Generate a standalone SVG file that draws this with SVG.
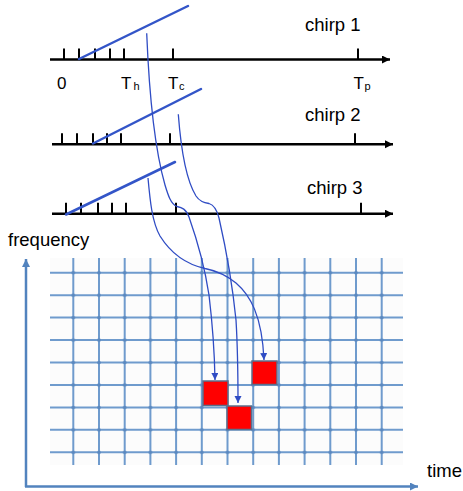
<svg xmlns="http://www.w3.org/2000/svg" width="463" height="491" viewBox="0 0 463 491">
<defs>
<style>
text{font-family:"Liberation Sans",Arial,sans-serif;fill:#000}
.lbl{font-size:18.5px}
.tk{font-size:17px}
.sub{font-size:11px}
.tl{stroke:#000;stroke-width:2.5;fill:none}
.tick{stroke:#000;stroke-width:2;fill:none}
.ramp{stroke:#3355c8;stroke-width:2.5;fill:none;stroke-linecap:round}
.gl{stroke:#6f9bcd;stroke-width:2;fill:none}
.ax{stroke:#5283be;stroke-width:2.5;fill:none}
.cv{stroke:#2f4cc4;stroke-width:1.3;fill:none}
.cell{fill:#ff0000;stroke:#5a6f8c;stroke-width:1.5}
</style>
<pattern id="dots" patternUnits="userSpaceOnUse" x="60.45" y="261.475" width="25.7" height="22.45">
<circle cx="12.85" cy="11.225" r="1.8" fill="#5a88bf"/>
</pattern>
<marker id="ab" markerUnits="userSpaceOnUse" markerWidth="9" markerHeight="9" refX="8" refY="4" orient="auto">
<path d="M0,0 L8,4 L0,8 z" fill="#000"/>
</marker>
<marker id="aa" markerUnits="userSpaceOnUse" markerWidth="9" markerHeight="9" refX="8" refY="4" orient="auto">
<path d="M0,0 L8,4 L0,8 z" fill="#5283be"/>
</marker>
<marker id="ac" markerUnits="userSpaceOnUse" markerWidth="8" markerHeight="8" refX="7" refY="3.5" orient="auto">
<path d="M0,0 L7,3.5 L0,7 z" fill="#2f4cc4"/>
</marker>
</defs>
<rect width="463" height="491" fill="#fff"/>

<g id="chirp1">
<line class="tl" x1="50" y1="59.5" x2="390" y2="59.5" marker-end="url(#ab)"/>
<path class="tick" d="M64,48.5V59.5M79,48.5V59.5M95,48.5V59.5M110,48.5V59.5M124,48.5V59.5M173,48.5V59.5M358,48.5V59.5"/>
<line class="ramp" x1="79" y1="59" x2="188" y2="6"/>
<text class="lbl" x="305" y="31">chirp 1</text>
<text class="tk" x="57" y="89">0</text>
<text class="tk" x="121" y="88.5">T</text><text class="sub" x="133.5" y="90">h</text>
<text class="tk" x="168" y="88.5">T</text><text class="sub" x="179" y="90">c</text>
<text class="tk" x="353.5" y="88.5">T</text><text class="sub" x="364.5" y="90">p</text>
</g>

<g id="chirp2">
<line class="tl" x1="52" y1="144.3" x2="393" y2="144.3" marker-end="url(#ab)"/>
<path class="tick" d="M62,133.3V144.3M77,133.3V144.3M93,133.3V144.3M107,133.3V144.3M121,133.3V144.3M170,133.3V144.3M355,133.3V144.3"/>
<line class="ramp" x1="93" y1="143.5" x2="201" y2="89"/>
<text class="lbl" x="305" y="121">chirp 2</text>
</g>

<g id="chirp3">
<line class="tl" x1="52" y1="213.7" x2="393" y2="213.7" marker-end="url(#ab)"/>
<path class="tick" d="M66,202.7V213.7M81,202.7V213.7M98,202.7V213.7M112,202.7V213.7M126,202.7V213.7M176,202.7V213.7M361,202.7V213.7"/>
<line class="ramp" x1="66" y1="214.5" x2="175" y2="162"/>
<text class="lbl" x="307" y="194">chirp 3</text>
</g>

<g id="grid">
<rect x="50" y="258" width="353" height="207" fill="#fcfcfc"/>
<path class="gl" d="M50,272.7H403M50,295.15H403M50,317.6H403M50,340.05H403M50,362.5H403M50,384.95H403M50,407.4H403M50,429.85H403M50,452.3H403"/>
<path class="gl" d="M73.3,258V465M99,258V465M124.7,258V465M150.4,258V465M176.1,258V465M201.8,258V465M227.5,258V465M253.2,258V465M278.9,258V465M304.6,258V465M330.3,258V465M356,258V465M381.7,258V465"/>
<rect x="60.45" y="261.475" width="334.1" height="202.05" fill="url(#dots)"/>
</g>

<g id="axes">
<line class="ax" x1="26" y1="487" x2="26" y2="259" marker-end="url(#aa)"/>
<line class="ax" x1="25" y1="486.5" x2="418" y2="486.5" marker-end="url(#aa)"/>
<text class="lbl" x="8" y="245.5">frequency</text>
<text class="lbl" x="427" y="477">time</text>
</g>

<g id="cells">
<rect id="cell1" class="cell" x="203" y="381" width="25" height="24.5"/>
<rect id="cell2" class="cell" x="227" y="406" width="24.5" height="23.5"/>
<rect id="cell3" class="cell" x="252" y="361" width="25" height="23.5"/>
</g>

<g id="connectors">
<path class="cv" d="M146.7,33.3 C149,90 155,150 165,185 C168,195 171,204.5 177,206.5 C182,207.5 186,209 189,217 C195,234 204,262 209,295 C212,320 214.5,350 215,380" marker-end="url(#ac)"/>
<path class="cv" d="M178.3,114.3 C181,150 186,180 196,196 C200,202 205,203 209,203.5 C214,205 217,210 219,218 C224,240 232,280 236,320 C237.5,345 238,375 238,403" marker-end="url(#ac)"/>
<path class="cv" d="M148,178 C150,200 152,222 160,236 C170,252 185,264 205,268.5 C215,270.5 225,274 236,283 C250,295 262,315 264,360" marker-end="url(#ac)"/>
</g>
</svg>
